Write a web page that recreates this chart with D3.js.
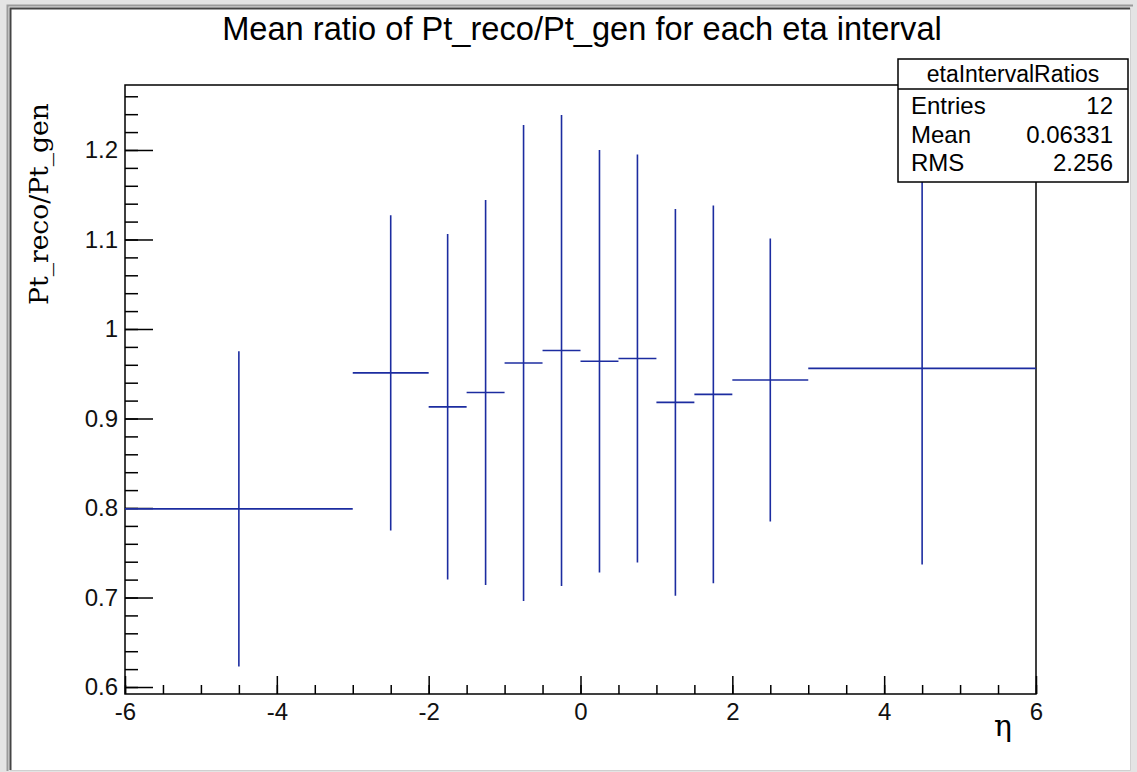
<!DOCTYPE html>
<html>
<head>
<meta charset="utf-8">
<script src="https://cdn.jsdelivr.net/npm/d3@7"></script>
<style>
  html, body { margin: 0; padding: 0; background: #fff; }
  svg { display: block; }
</style>
</head>
<body>
<div id="chart"></div>
<script>
// bins in eta, mean Pt ratio per bin and its error
const binLow  = [-6, -3, -2, -1.5, -1, -0.5, 0, 0.5, 1, 1.5, 2, 3];
const binHigh = [-3, -2, -1.5, -1, -0.5, 0, 0.5, 1, 1.5, 2, 3, 6];
const means   = [0.799, 0.951, 0.913, 0.929, 0.962, 0.976, 0.964, 0.967, 0.918, 0.927, 0.943, 0.956];
const errors  = [0.176, 0.176, 0.193, 0.215, 0.266, 0.263, 0.236, 0.228, 0.216, 0.211, 0.158, 0.219];

const xTicks = [-6, -4, -2, 0, 2, 4, 6];
const yTicks = [0.6, 0.7, 0.8, 0.9, 1, 1.1, 1.2];

const statsLabels = ["Entries", "Mean", "RMS"];
const statsValues = ["12", "0.06331", "2.256"];

const W = 1137, H = 772;
const frame = { left: 125, right: 1036, top: 85, bottom: 694 };
const blue = "#1c2ca0";
const sans = "Liberation Sans, Arial, sans-serif";

const svg = d3.select("#chart").append("svg")
    .attr("width", W)
    .attr("height", H);

// canvas border (ROOT style bevel)
svg.append("rect")
    .attr("x", 0).attr("y", 0).attr("width", W).attr("height", H)
    .attr("fill", "#e4e4e4");
svg.append("rect")
    .attr("x", 10).attr("y", 8).attr("width", 1120).attr("height", 762)
    .attr("fill", "#fff");
svg.append("path")
    .attr("d", "M10.5,770 L10.5,8.5 L1130,8.5")
    .attr("fill", "none").attr("stroke", "#444").attr("stroke-width", 2);
svg.append("path")
    .attr("d", "M7.5,771 L7.5,5.5 L1133,5.5")
    .attr("fill", "none").attr("stroke", "#9a9a9a").attr("stroke-width", 2);
svg.append("path")
    .attr("d", "M1130.5,8 L1130.5,770.5 L10,770.5")
    .attr("fill", "none").attr("stroke", "#d0d0d0").attr("stroke-width", 1);

const x = d3.scaleLinear()
    .domain([-6, 6])
    .range([frame.left, frame.right]);
const y = d3.scaleLinear()
    .domain([0.5922, 1.2726])
    .range([frame.bottom, frame.top]);

// plot frame
svg.append("rect")
    .attr("x", frame.left).attr("y", frame.top)
    .attr("width", frame.right - frame.left)
    .attr("height", frame.bottom - frame.top)
    .attr("fill", "none")
    .attr("stroke", "#000")
    .attr("stroke-width", 1.5);

// y axis minor ticks
svg.append("g")
    .attr("transform", `translate(${frame.left},0)`)
    .call(d3.axisLeft(y)
        .tickValues(d3.range(0.6, 1.27, 0.02))
        .tickSizeInner(-13).tickSizeOuter(0)
        .tickFormat(""))
    .call(g => g.select(".domain").remove())
    .selectAll("line").attr("stroke-width", 1.5);

// y axis major ticks + labels
svg.append("g")
    .attr("transform", `translate(${frame.left},0)`)
    .call(d3.axisLeft(y)
        .tickValues(yTicks)
        .tickSizeInner(-28).tickSizeOuter(0)
        .tickPadding(7)
        .tickFormat(d => String(+d.toFixed(2))))
    .call(g => g.select(".domain").remove())
    .call(g => g.selectAll("line").attr("stroke-width", 1.5))
    .selectAll("text")
    .attr("font-family", sans)
    .attr("font-size", 24)
    .attr("fill", "#111");

// x axis minor ticks
svg.append("g")
    .attr("transform", `translate(0,${frame.bottom})`)
    .call(d3.axisBottom(x)
        .tickValues(d3.range(-6, 6.01, 0.5))
        .tickSizeInner(-9).tickSizeOuter(0)
        .tickFormat(""))
    .call(g => g.select(".domain").remove())
    .selectAll("line").attr("stroke-width", 1.5);

// x axis major ticks + labels (plain hyphen like ROOT)
svg.append("g")
    .attr("transform", `translate(0,${frame.bottom})`)
    .call(d3.axisBottom(x)
        .tickValues(xTicks)
        .tickSizeInner(-18).tickSizeOuter(0)
        .tickPadding(9)
        .tickFormat(d => String(d)))
    .call(g => g.select(".domain").remove())
    .call(g => g.selectAll("line").attr("stroke-width", 1.5))
    .selectAll("text")
    .attr("font-family", sans)
    .attr("font-size", 24)
    .attr("fill", "#111");

// data: horizontal bin width and vertical error bar
const bins = means.map((m, i) => ({
    lo: binLow[i], hi: binHigh[i], c: (binLow[i] + binHigh[i]) / 2, m: m, e: errors[i]
}));

const marks = svg.append("g")
    .attr("stroke", blue)
    .attr("stroke-width", 1.6);

marks.selectAll("line.hbar")
    .data(bins)
    .join("line")
    .attr("class", "hbar")
    .attr("x1", d => x(d.lo))
    .attr("x2", d => x(d.hi))
    .attr("y1", d => y(d.m))
    .attr("y2", d => y(d.m));

marks.selectAll("line.vbar")
    .data(bins)
    .join("line")
    .attr("class", "vbar")
    .attr("x1", d => x(d.c))
    .attr("x2", d => x(d.c))
    .attr("y1", d => y(d.m - d.e))
    .attr("y2", d => y(d.m + d.e));

// title
const title = svg.append("text")
    .attr("x", 582)
    .attr("y", 40)
    .attr("text-anchor", "middle")
    .attr("font-family", sans)
    .attr("font-size", 27)
    .attr("fill", "#000")
    .text("Mean ratio of Pt_reco/Pt_gen for each eta interval");
const tw = title.node().getComputedTextLength();
title.attr("font-size", 27 * 720 / tw);

// y axis title
const ytitle = svg.append("text")
    .attr("transform", "translate(48,204) rotate(-90)")
    .attr("text-anchor", "middle")
    .attr("font-family", "DejaVu Serif, Liberation Serif, serif")
    .attr("font-size", 28)
    .attr("fill", "#000")
    .text("Pt_reco/Pt_gen");
const yw = ytitle.node().getComputedTextLength();
ytitle.attr("font-size", 28 * 202 / yw);

// x axis title
svg.append("text")
    .attr("x", 1003)
    .attr("y", 736)
    .attr("text-anchor", "middle")
    .attr("font-family", "DejaVu Serif, Liberation Serif, serif")
    .attr("font-size", 30)
    .attr("fill", "#000")
    .text("η");

// stats box
const box = { x: 898, y: 59, w: 230, h: 123, head: 30 };
const stats = svg.append("g");
stats.append("rect")
    .attr("x", box.x).attr("y", box.y)
    .attr("width", box.w).attr("height", box.h)
    .attr("fill", "#fff")
    .attr("stroke", "#000")
    .attr("stroke-width", 1.5);
stats.append("line")
    .attr("x1", box.x).attr("x2", box.x + box.w)
    .attr("y1", box.y + box.head).attr("y2", box.y + box.head)
    .attr("stroke", "#000")
    .attr("stroke-width", 1.5);
stats.append("text")
    .attr("x", box.x + box.w / 2)
    .attr("y", 82)
    .attr("text-anchor", "middle")
    .attr("font-family", sans)
    .attr("font-size", 23)
    .text("etaIntervalRatios");

const rowY = [114, 142.5, 171];
stats.selectAll("text.lab")
    .data(statsLabels)
    .join("text")
    .attr("class", "lab")
    .attr("x", 911)
    .attr("y", (d, i) => rowY[i])
    .attr("font-family", sans)
    .attr("font-size", 24)
    .text(d => d);
stats.selectAll("text.val")
    .data(statsValues)
    .join("text")
    .attr("class", "val")
    .attr("x", 1113)
    .attr("y", (d, i) => rowY[i])
    .attr("text-anchor", "end")
    .attr("font-family", sans)
    .attr("font-size", 24)
    .text(d => d);
</script>
</body>
</html>
